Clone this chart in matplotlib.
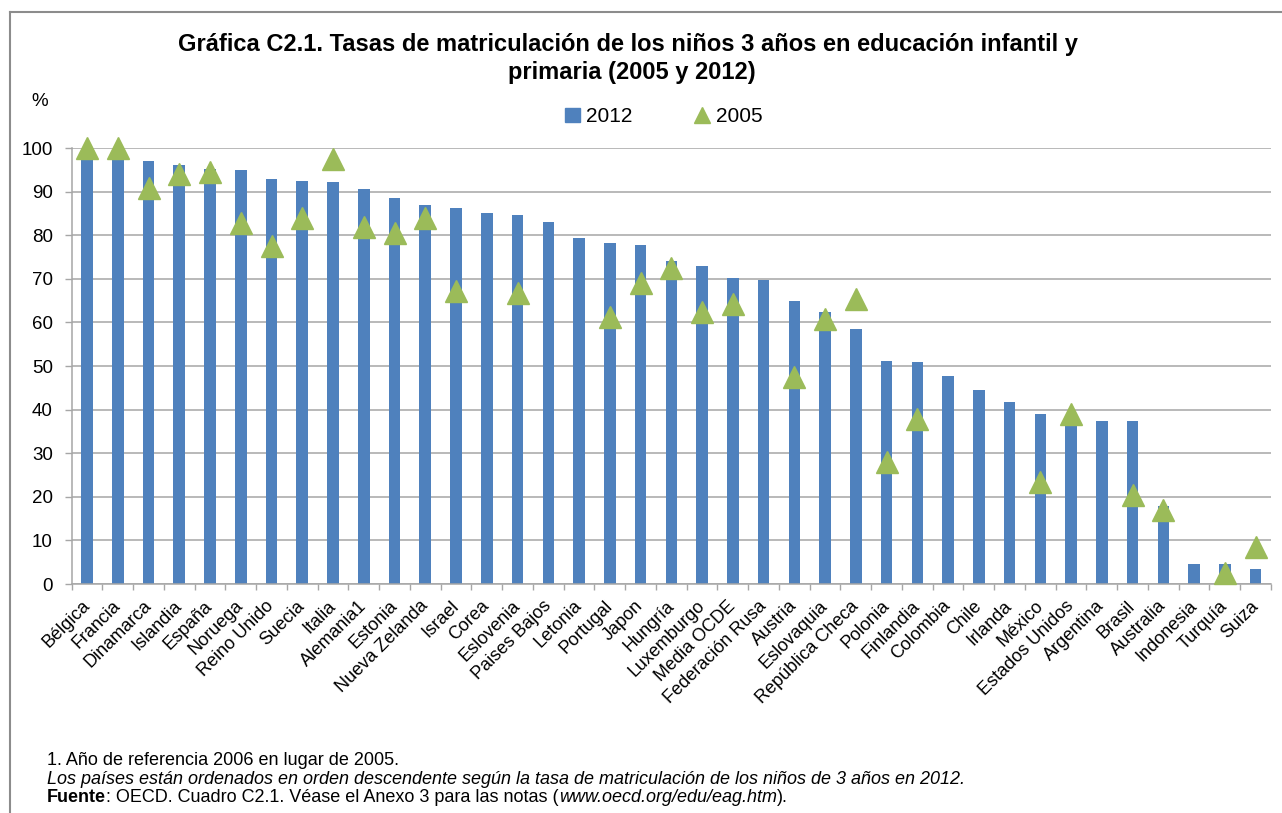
import numpy as np
import matplotlib
matplotlib.use("Agg")
import matplotlib.pyplot as plt
from matplotlib.lines import Line2D
from matplotlib.patches import Patch

plt.rcParams['font.family'] = ['Liberation Sans', 'DejaVu Sans']

categories = ['Bélgica', 'Francia', 'Dinamarca', 'Islandia', 'España', 'Noruega',
              'Reino Unido', 'Suecia', 'Italia', 'Alemania1', 'Estonia', 'Nueva Zelanda',
              'Israel', 'Corea', 'Eslovenia', 'Paises Bajos', 'Letonia', 'Portugal',
              'Japon', 'Hungría', 'Luxemburgo', 'Media OCDE', 'Federación Rusa',
              'Austria', 'Eslovaquia', 'República Checa', 'Polonia', 'Finlandia',
              'Colombia', 'Chile', 'Irlanda', 'México', 'Estados Unidos', 'Argentina',
              'Brasil', 'Australia', 'Indonesia', 'Turquía', 'Suiza']

values_2012 = [98.5, 98.8, 97.1, 96.0, 95.1, 94.9, 92.9, 92.4, 92.1, 90.7, 88.5, 87.0,
               86.3, 85.1, 84.7, 83.1, 79.3, 78.3, 77.8, 74.1, 72.9, 70.1, 69.8,
               64.8, 62.4, 58.6, 51.1, 50.9, 47.8, 44.6, 41.8, 39.1, 37.4, 37.4,
               37.4, 17.8, 4.6, 4.6, 3.4]

values_2005 = [100, 100, 90.9, 94.1, 94.5, 82.8, 77.6, 84.0, 97.4, 81.8, 80.5, 83.9,
               67.2, np.nan, 66.8, np.nan, np.nan, 61.2, 69.0, 72.5, 62.3, 64.2, np.nan,
               47.5, 60.8, 65.3, 27.9, 37.8, np.nan, np.nan, np.nan, 23.4, 39.1, np.nan,
               20.5, 17.0, np.nan, 2.5, 8.6]

y_ticks = [0, 10, 20, 30, 40, 50, 60, 70, 80, 90, 100]

title_line1 = "Gráfica C2.1. Tasas de matriculación de los niños 3 años en educación infantil y"
title_line2 = "primaria (2005 y 2012)"

BLUE = '#4F81BD'
GREEN = '#9BBB59'
GRID = '#A6A6A6'

W, H = 1282, 813
fig = plt.figure(figsize=(W / 100, H / 100), dpi=100)

def fx(px):
    return px / W

def fy(py):
    return 1 - py / H

left, right, top, bottom = 71.7, 1271, 148, 584
ax = fig.add_axes([fx(left), fy(bottom), fx(right - left), (bottom - top) / H])

x = np.arange(len(categories))
ax.bar(x, values_2012, width=0.38, color=BLUE, zorder=2)
ax.plot(x, values_2005, linestyle='none', marker='^', markersize=15.5,
        color=GREEN, markeredgecolor=GREEN, zorder=3, clip_on=False)

ax.set_xlim(-0.5, len(categories) - 0.5)
ax.set_ylim(0, 100)
ax.set_yticks(y_ticks)
ax.set_yticklabels([str(t) for t in y_ticks], fontsize=13.5)
ax.yaxis.grid(True, color=GRID, linewidth=1.1, zorder=0)
ax.set_axisbelow(True)

ax.set_xticks(x)
ax.set_xticklabels(categories, rotation=45, ha='right', va='center',
                   rotation_mode='anchor', fontsize=13)
ax.set_xticks(np.arange(-0.5, len(categories), 1.0), minor=True)
ax.tick_params(axis='x', which='major', length=0, pad=14)
ax.tick_params(axis='x', which='minor', length=4.5, color=GRID, width=1.0)
ax.tick_params(axis='y', which='major', length=5, color=GRID, width=1.0, pad=8.5)

for s in ['top', 'right']:
    ax.spines[s].set_visible(False)
for s in ['left', 'bottom']:
    ax.spines[s].set_color(GRID)
    ax.spines[s].set_linewidth(1.1)

# Title
fig.text(fx(628), fy(45), title_line1, ha='center', va='center', fontsize=17,
         fontweight='bold')
fig.text(fx(632), fy(72), title_line2, ha='center', va='center', fontsize=17,
         fontweight='bold')

# % label
fig.text(fx(40), fy(101), '%', ha='center', va='center', fontsize=13.5)

# Legend
handles = [Patch(facecolor=BLUE, edgecolor=BLUE),
           Line2D([], [], linestyle='none', marker='^', markersize=11,
                  color=GREEN, markeredgecolor=GREEN)]
fig.legend(handles, ['2012', '2005'], loc='center',
           bbox_to_anchor=(fx(664), fy(117)), ncol=2, frameon=False,
           fontsize=15, handlelength=0.7, handleheight=0.7,
           handletextpad=0.3, columnspacing=3.0)

# Footnotes
FS = 13
fig.text(fx(47), fy(760), '1. Año de referencia 2006 en lugar de 2005.',
         ha='left', va='center', fontsize=FS)
fig.text(fx(47), fy(779),
         'Los países están ordenados en orden descendente según la tasa de matriculación de los niños de 3 años en 2012.',
         ha='left', va='center', fontsize=FS, style='italic')

renderer = fig.canvas.get_renderer()
xcur = fx(47)
parts = [('Fuente', 'bold', 'normal'),
         (': OECD. Cuadro C2.1. Véase el Anexo 3 para las notas (', 'normal', 'normal'),
         ('www.oecd.org/edu/eag.htm', 'normal', 'italic'),
         (').', 'normal', 'normal')]
for txt, wt, st in parts:
    t = fig.text(xcur, fy(797), txt, ha='left', va='center', fontsize=FS,
                 fontweight=wt, style=st)
    bb = t.get_window_extent(renderer=renderer)
    xcur += bb.width / W

# Outer frame
fig.add_artist(Line2D([fx(10), fx(10)], [fy(12), 0], color='#8C8C8C', linewidth=1.5))
fig.add_artist(Line2D([fx(10), 1], [fy(12), fy(12)], color='#8C8C8C', linewidth=1.5))

fig.savefig('out.png', dpi=100)
